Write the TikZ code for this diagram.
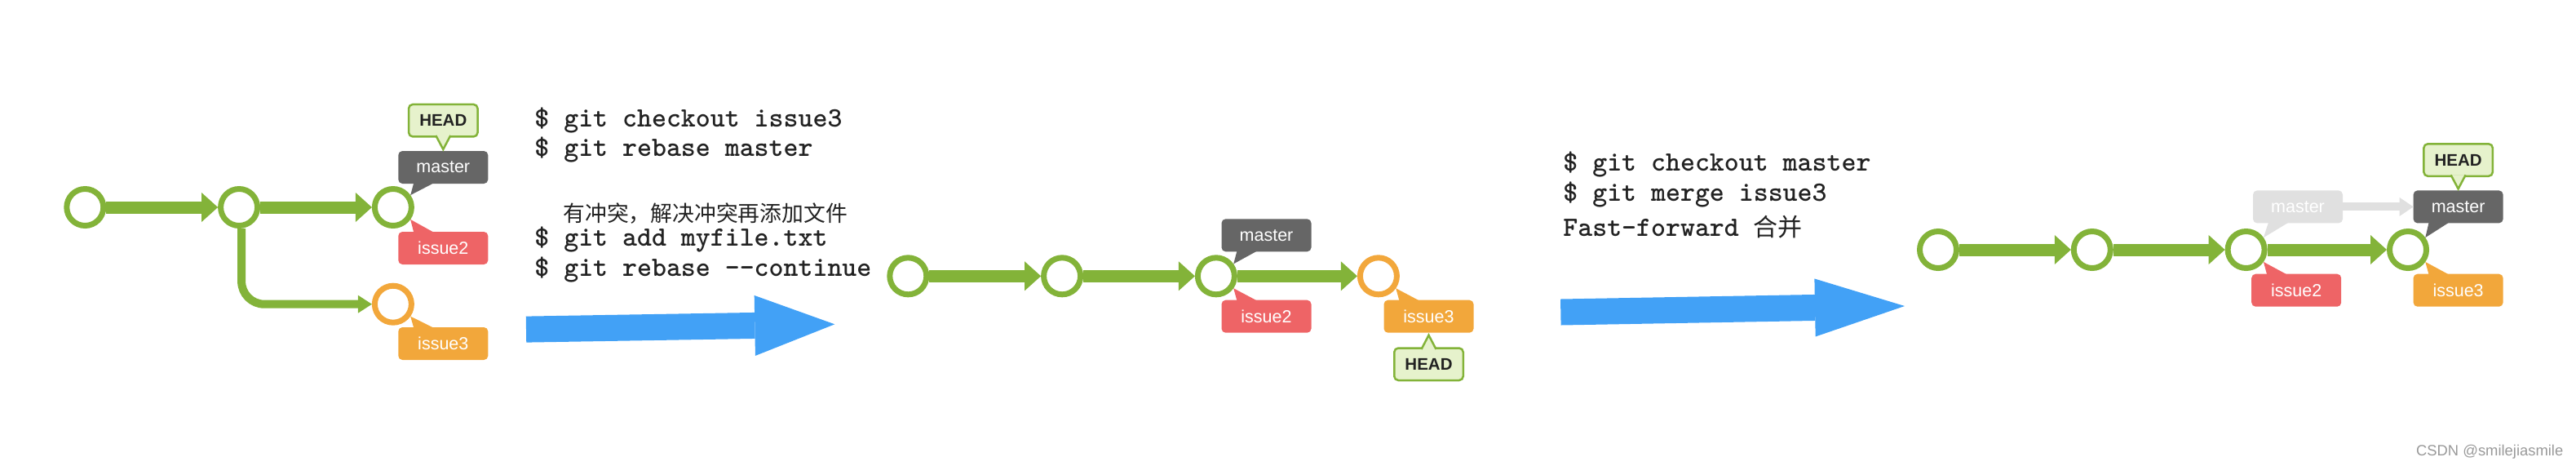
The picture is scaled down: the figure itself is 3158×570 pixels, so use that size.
\documentclass[tikz,border=0pt]{standalone}
\usepackage{fontspec}
\setsansfont{Liberation Sans}
\newfontfamily\cjkfont{Noto Sans CJK SC}
\usetikzlibrary{arrows.meta,positioning,calc}
\definecolor{commitgreen}{RGB}{131,179,57}
\definecolor{commitorange}{RGB}{242,167,59}
\definecolor{headfill}{RGB}{230,242,204}
\definecolor{mastergray}{RGB}{102,102,102}
\definecolor{issuered}{RGB}{238,100,102}
\definecolor{fadegray}{RGB}{224,224,224}
\definecolor{stepblue}{RGB}{66,161,246}
\definecolor{cmdtext}{RGB}{34,34,34}

\begin{document}
\begin{tikzpicture}[
    x=0.5pt, y=-0.5pt,
    node distance=68.4pt,
    commit/.style={circle, draw=commitgreen, line width=3.5pt, fill=white, minimum size=22.5pt, inner sep=0pt},
    tag/.style={rectangle, rounded corners=2.5pt, minimum width=55pt, minimum height=20pt, inner sep=0pt, outer sep=0pt, text=white, font=\sffamily\fontsize{10.75}{12}\selectfont},
    headtag/.style={tag, draw=commitgreen, fill=headfill, line width=1.25pt, minimum width=42.25pt, minimum height=19.75pt, text=cmdtext, font=\sffamily\bfseries\fontsize{10.25}{12}\selectfont},
    headline/.style={draw=commitgreen, fill=headfill, line width=1.25pt},
    cmd/.style={anchor=base west, inner sep=0pt, text=cmdtext, font=\ttfamily\bfseries\fontsize{17.1}{20}\selectfont},
    note/.style={anchor=base west, inner sep=0pt, text=cmdtext, font=\cjkfont\fontsize{13.4}{16}\selectfont},
    link/.style={commitgreen, line width=7.5pt, -{Triangle[length=10pt, width=18pt, line width=0pt]}},
    branch/.style={commitgreen, line width=5pt, rounded corners=14pt, -{Triangle[length=8.5pt, width=11pt, line width=0pt]}},
    bluearrow/.style={stepblue, line width=16pt, -{Triangle[length=49pt, width=37pt, line width=0pt]}}
  ]
  \useasboundingbox (0,0) rectangle (3158,570);

  % before rebase
  \node[commit] (a1) at (104.3,254) {};
  \node[commit, right=of a1] (a2) {};
  \node[commit, right=of a2] (a3) {};
  \node[commit, draw=commitorange, below=33.35pt of a3] (a4) {};
  \draw[link] (a1) -- (a2);
  \draw[link] (a2) -- (a3);
  \draw[branch] ([xshift=1.5pt]a2.south) |- (a4);
  \node[tag, fill=mastergray, anchor=south west] (a3m) at ([shift={(3.2pt,14.5pt)}]a3.center) {master};
  \node[tag, fill=issuered, anchor=north west] (a3i) at ([shift={(3.2pt,-15pt)}]a3.center) {issue2};
  \node[tag, fill=commitorange, anchor=north west] (a4i) at ([shift={(3.2pt,-14.15pt)}]a4.center) {issue3};
  \node[headtag, above=8.8pt of a3m] (a3h) {HEAD};

  \node[cmd] (r1) at (655,155) {\$ git checkout issue3};
  \node[cmd] (r2) at (655,191.7) {\$ git rebase master};
  \node[note] (r3) at (690,271.7) {有冲突，解决冲突再添加文件};
  \node[cmd] (r4) at (655,301.7) {\$ git add myfile.txt};
  \node[cmd] (r5) at (655,338.3) {\$ git rebase -{}-continue};
  \coordinate (p1s) at (645,403.6);
  \coordinate (p1e) at (1023.3,397.3);
  \draw[bluearrow] (p1s) -- (p1e);

  % after rebase
  \node[commit] (b1) at (1113.3,338.3) {};
  \node[commit, right=of b1] (b2) {};
  \node[commit, right=of b2] (b3) {};
  \node[commit, draw=commitorange, right=73.5pt of b3] (b4) {};
  \draw[link] (b1) -- (b2);
  \draw[link] (b2) -- (b3);
  \draw[link] (b3) -- (b4);
  \node[tag, fill=mastergray, anchor=south west] (b3m) at ([shift={(3.3pt,15pt)}]b3.center) {master};
  \node[tag, fill=issuered, anchor=north west] (b3i) at ([shift={(3.3pt,-14.7pt)}]b3.center) {issue2};
  \node[tag, fill=commitorange, anchor=north west] (b4i) at ([shift={(3.3pt,-14.7pt)}]b4.center) {issue3};
  \node[headtag, below=9.4pt of b4i] (b4h) {HEAD};

  \node[cmd] (s1) at (1916,209.3) {\$ git checkout master};
  \node[cmd] (s2) at (1916,246.7) {\$ git merge issue3};
  \node[cmd] (s3) at (1916,289.3) {Fast-forward {\cjkfont\mdseries\fontsize{15}{18}\selectfont 合并}};
  \coordinate (p2s) at (1913.3,382.5);
  \coordinate (p2e) at (2335,375);
  \draw[bluearrow, -{Triangle[length=55pt, width=35.5pt, line width=0pt]}] (p2s) -- (p2e);

  % after merge
  \node[commit] (c1) at (2376,306) {};
  \node[commit, right=of c1] (c2) {};
  \node[commit, right=of c2] (c3) {};
  \node[commit, right=73.2pt of c3] (c4) {};
  \draw[link] (c1) -- (c2);
  \draw[link] (c2) -- (c3);
  \draw[link] (c3) -- (c4);
  \node[tag, fill=fadegray, anchor=south west] (c3m) at ([shift={(4.2pt,16.3pt)}]c3.center) {master};
  \node[tag, fill=mastergray, anchor=south west] (c4m) at ([shift={(3.3pt,16.3pt)}]c4.center) {master};
  \node[tag, fill=issuered, anchor=north west] (c3i) at ([shift={(3.3pt,-14.85pt)}]c3.center) {issue2};
  \node[tag, fill=commitorange, anchor=north west] (c4i) at ([shift={(3.3pt,-14.85pt)}]c4.center) {issue3};
  \node[headtag, above=8.8pt of c4m] (c4h) {HEAD};
  \draw[fadegray, line width=5pt, -{Triangle[length=8.5pt, width=11.5pt, line width=0pt]}] (c3m) -- (c4m);

  % tag pointers
  \foreach \t/\c/\col in {a3m/a3/mastergray, b3m/b3/mastergray, c3m/c3/fadegray, c4m/c4/mastergray}
    \fill[\col] ([shift={(9.5pt,0.5pt)}]\t.south west) -- (\c.35) -- ([shift={(22pt,0.5pt)}]\t.south west) -- cycle;
  \foreach \t/\c/\col in {a3i/a3/issuered, a4i/a4/commitorange, b3i/b3/issuered, b4i/b4/commitorange, c3i/c3/issuered, c4i/c4/commitorange}
    \fill[\col] ([shift={(9.5pt,-0.5pt)}]\t.north west) -- (\c.-35) -- ([shift={(22pt,-0.5pt)}]\t.north west) -- cycle;
  \filldraw[headline] ([shift={(-4.5pt,0.7pt)}]a3h.south) -- ([yshift=1pt]a3m.north) -- ([shift={(4.5pt,0.7pt)}]a3h.south);
  \filldraw[headline] ([shift={(-4.5pt,0.7pt)}]c4h.south) -- ([yshift=1pt]c4m.north) -- ([shift={(4.5pt,0.7pt)}]c4h.south);
  \filldraw[headline] ([shift={(-4.5pt,-0.7pt)}]b4h.north) -- ([yshift=-1.5pt]b4i.south) -- ([shift={(4.5pt,-0.7pt)}]b4h.north);

  \node[anchor=base west, inner sep=0pt, text=black!40, font=\sffamily\fontsize{9.2}{11}\selectfont] (mark) at (2961.7,558) {CSDN @smilejiasmile};
\end{tikzpicture}
\end{document}
